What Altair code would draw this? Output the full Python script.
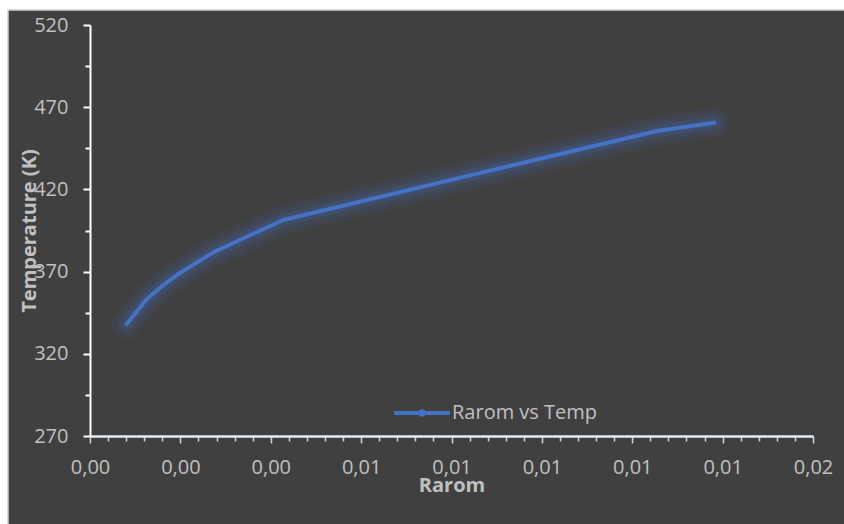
import altair as alt
import pandas as pd

# ---- data ----
rarom = [0.000812, 0.001255, 0.001622, 0.001919, 0.002729, 0.003468,
         0.004278, 0.008409, 0.012548, 0.013816]
temp = [338.1, 353.2, 361.8, 367.9, 381.7, 391.2, 401.4, 428.5, 455.5, 460.6]
series_name = "Rarom vs Temp"

x_ticks = [round(i * 0.0004, 4) for i in range(41)]   # major every 0.002
y_ticks = list(range(270, 521, 25))                   # major every 50

W, H = 723, 411
PAD = {"left": 90, "top": 25, "right": 31, "bottom": 88}

FONT = "Open Sans"
LABEL = "#c0c0c0"
LINE = "#4472C4"
BG = "#404040"

df = pd.DataFrame({"Rarom": rarom, "Temp": temp, "series": series_name})
df["order"] = range(len(df))

x_major = "round(datum.value*10000) % 20 == 0"
y_major = "(datum.value - 270) % 50 == 0"

xaxis = alt.Axis(
    values=x_ticks,
    labelExpr=f"{x_major} ? replace(format(datum.value, '.2f'), '.', ',') : ''",
    tickSize={"condition": {"test": x_major, "value": 7}, "value": 5},
    tickColor="#c8d5ec", tickWidth=1.5,
    domainColor="#e4ebf6", domainWidth=2.5,
    labelFont=FONT, labelFontSize=20, labelColor=LABEL,
    labelPadding=14, labelOverlap=False, labelFlush=False, labelBound=False,
    grid=False,
    title="Rarom", titleFont=FONT, titleFontSize=20, titleFontWeight="bold",
    titleColor=LABEL, titleBaseline="alphabetic", titleY=55, titleX=W / 2,
    zindex=1,
)
yaxis = alt.Axis(
    values=y_ticks,
    labelExpr=f"{y_major} ? format(datum.value, 'd') : ''",
    tickSize={"condition": {"test": y_major, "value": 7}, "value": 5},
    tickColor="white", tickWidth=2,
    domainColor="white", domainWidth=2,
    labelFont=FONT, labelFontSize=20, labelColor=LABEL,
    labelPadding=15, labelOverlap=False, labelFlush=False, labelBound=False,
    grid=False,
    title="Temperature (K)", titleFont=FONT, titleFontSize=20,
    titleFontWeight="bold", titleColor=LABEL, titleBaseline="middle",
    titleX=-61, titleY=H / 2,
    zindex=1,
)

xenc = alt.X("Rarom:Q", scale=alt.Scale(domain=[0, 0.016], nice=False, zero=False), axis=xaxis)
yenc = alt.Y("Temp:Q", scale=alt.Scale(domain=[270, 520], nice=False, zero=False), axis=yaxis)

frame = alt.Chart(pd.DataFrame({"f": [0]})).mark_rect(
    fill=BG, stroke="#d0d0d0", strokeWidth=1.5
).encode(
    x=alt.value(-82), x2=alt.value(W + 60),
    y=alt.value(-15), y2=alt.value(H + 120),
)

base = alt.Chart(df).encode(x=xenc, y=yenc, order="order:Q")

glow1 = base.mark_line(color=LINE, strokeWidth=30, opacity=0.07,
                       strokeCap="round", strokeJoin="round")
glow2 = base.mark_line(color=LINE, strokeWidth=20, opacity=0.11,
                       strokeCap="round", strokeJoin="round")
glow3 = base.mark_line(color=LINE, strokeWidth=12, opacity=0.16,
                       strokeCap="round", strokeJoin="round")

legend_symbol = ("M-1,0H1M0.06,0A0.06,0.06 0 1,1 -0.06,0A0.06,0.06 0 1,1 0.06,0")

main = base.mark_line(strokeWidth=4, strokeCap="round", strokeJoin="round").encode(
    color=alt.Color(
        "series:N",
        scale=alt.Scale(domain=[series_name], range=[LINE]),
        legend=alt.Legend(
            title=None, orient="none", legendX=302, legendY=358,
            symbolType=legend_symbol, symbolSize=3136, symbolStrokeWidth=4,
            symbolStrokeColor=LINE,
            labelFont=FONT, labelFontSize=20, labelColor=LABEL,
            labelOffset=0, padding=0,
        ),
    )
)

chart = alt.layer(frame, glow1, glow2, glow3, main).properties(
    width=W, height=H,
    autosize=alt.AutoSizeParams(type="none"),
    padding=PAD,
    background="white",
).configure_view(stroke=None)

chart.save("out.html", embed_options={"renderer": "svg", "actions": False})
